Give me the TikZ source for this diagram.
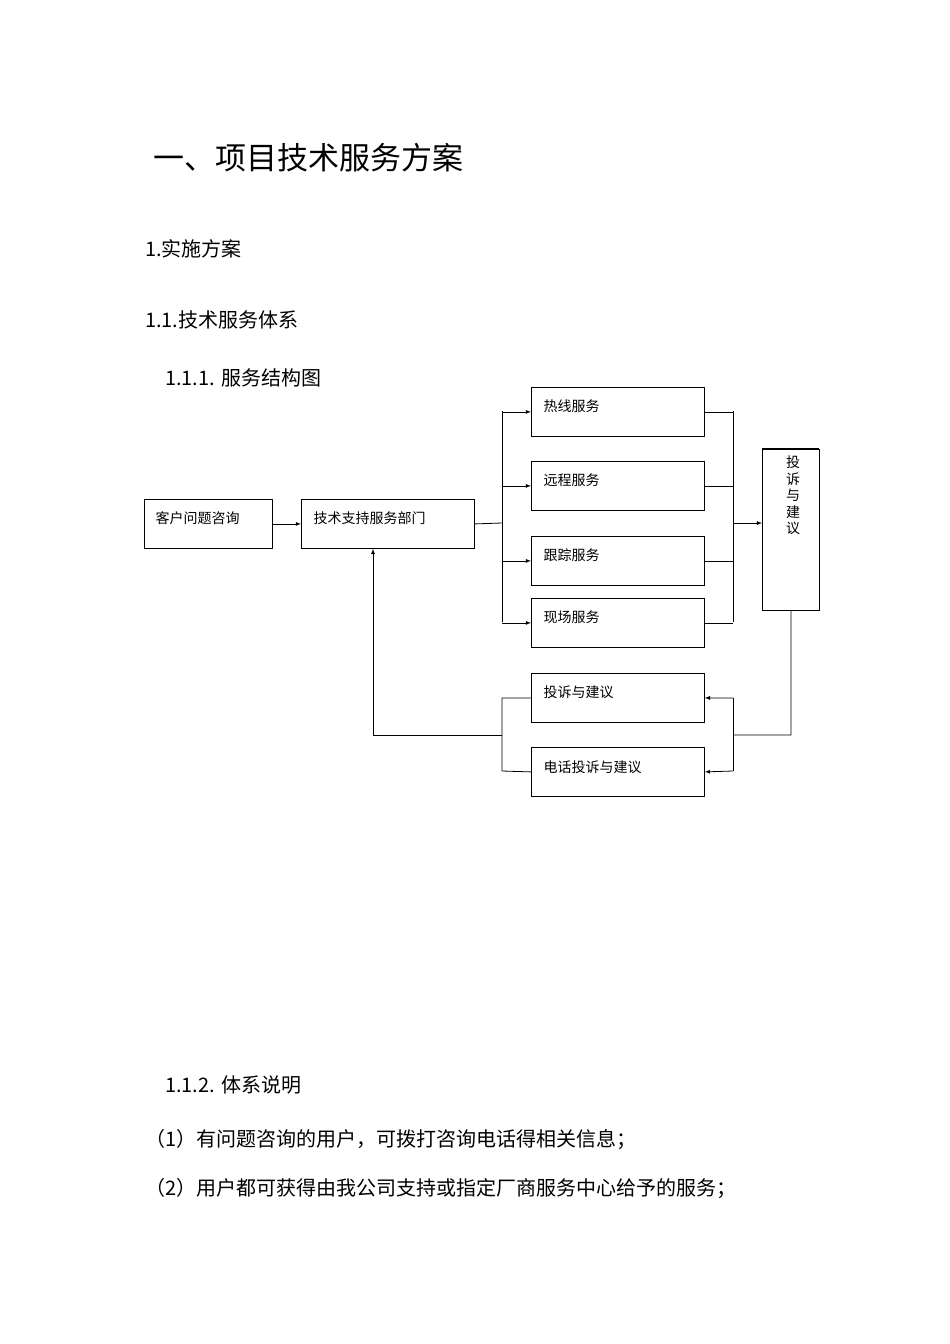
\documentclass[tikz,border=0pt]{standalone}
\usepackage{fontspec}
\setmainfont{Noto Sans CJK SC}
\begin{document}
\begin{tikzpicture}[x=1pt,y=-1pt,
 box/.style={draw,line width=0.8pt,anchor=north west,minimum height=49pt,inner sep=0pt},
 lbl/.style={anchor=west,font=\fontsize{14}{16}\selectfont},
 ln/.style={line width=0.8pt},
 ar/.style={ln,-latex},
 txt/.style={anchor=west,inner sep=0pt}]
\useasboundingbox (0,0) rectangle (950,1344);
\node[txt,font=\fontsize{31}{34}\selectfont] at (153,158) {一、项目技术服务方案};
\node[txt,font=\fontsize{20}{24}\selectfont] at (145,249) {1.实施方案};
\node[txt,font=\fontsize{20}{24}\selectfont] at (145,320) {1.1.技术服务体系};
\node[txt,font=\fontsize{20}{24}\selectfont] at (165,378) {1.1.1. 服务结构图};
\node[txt,font=\fontsize{20}{24}\selectfont] at (165,1085) {1.1.2. 体系说明};
\node[txt,font=\fontsize{20}{24}\selectfont] at (145,1140) {（1）有问题咨询的用户，可拨打咨询电话得相关信息；};
\node[txt,font=\fontsize{20}{24}\selectfont] at (145,1189) {（2）用户都可获得由我公司支持或指定厂商服务中心给予的服务；};
% boxes
\node[box,minimum width=128pt] (a) at (144,499) {};
\node[lbl] at (152,518) {客户问题咨询};
\node[box,minimum width=173pt] (b) at (301,499) {};
\node[lbl] at (310,518) {技术支持服务部门};
\node[box,minimum width=173pt] (s1) at (531,387) {};
\node[lbl] at (540,406) {热线服务};
\node[box,minimum width=173pt] (s2) at (531,461) {};
\node[lbl] at (540,480) {远程服务};
\node[box,minimum width=173pt] (s3) at (531,536) {};
\node[lbl] at (540,555) {跟踪服务};
\node[box,minimum width=173pt] (s4) at (531,598) {};
\node[lbl] at (540,617) {现场服务};
\node[box,minimum width=173pt] (c1) at (531,673) {};
\node[lbl] at (540,692) {投诉与建议};
\node[box,minimum width=173pt] (c2) at (531,747) {};
\node[lbl] at (540,767) {电话投诉与建议};
\node[box,minimum width=57pt,minimum height=161pt] (r) at (762,449) {};
\draw[line width=1.6pt] (762,449) -- (819,449);
\node[anchor=north,align=center,font=\fontsize{14}{16.5}\selectfont,inner sep=0pt] at (793,456) {投\\诉\\与\\建\\议};
% connectors
\coordinate (lb) at (502,523);
\draw[ar] (a.east) -- (b.west);
\draw[ln] (b.east) -- (lb);
\draw[ln] (502,411) -- (502,622);
\foreach \s in {s1,s2,s3,s4} \draw[ar] (502,0 |- \s.west) -- (\s.west);
\foreach \s in {s1,s2,s3,s4} \draw[ln] (\s.east) -- (733,0 |- \s.east);
\draw[ln] (733,411) -- (733,622);
\draw[ar] (733,523) -- (r.west |- 0,523);
\draw[ln] (r.south) -- (791,735) -- (733,735);
\draw[ln] (733,698) -- (733,771);
\draw[ar] (733,698) -- (c1.east);
\draw[ar] (733,771) -- (c2.east);
\draw[ln] (c1.west) -- (502,698) -- (502,771) -- (c2.west);
\draw[ar] (502,735) -- (373,735) -- (373,0 |- b.south);
\end{tikzpicture}
\end{document}
